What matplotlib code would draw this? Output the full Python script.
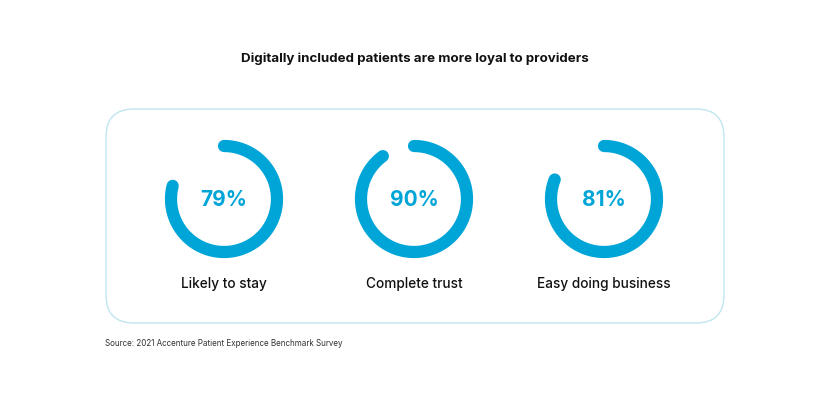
import numpy as np
import matplotlib.pyplot as plt
from matplotlib.patches import FancyBboxPatch

plt.rcParams['font.family'] = ['Inter', 'DejaVu Sans']

# data
labels = ['Likely to stay', 'Complete trust', 'Easy doing business']
values = [79, 90, 81]
title = 'Digitally included patients are more loyal to providers'
source = 'Source: 2021 Accenture Patient Experience Benchmark Survey'

blue = '#00a5d8'

fig = plt.figure(figsize=(8.30, 3.99), dpi=100)
ax = fig.add_axes([0, 0, 1, 1])
ax.set_xlim(0, 830)
ax.set_ylim(399, 0)
ax.set_aspect('equal')
ax.axis('off')

# rounded box
box = FancyBboxPatch((106, 109), 618, 214,
                     boxstyle='round,pad=0,rounding_size=28',
                     fc='none', ec='#bfe6ee', lw=1.0)
ax.add_patch(box)

ax.text(415, 59, title, ha='center', va='center', fontsize=9.6,
        fontweight='bold', color='#111111')

centers = [224, 414, 604]
cy = 199
r = 53
for cx, v, lab in zip(centers, values, labels):
    th = np.radians(np.linspace(90, 90 - 360 * v / 100, 300))
    ax.plot(cx + r * np.cos(th), cy - r * np.sin(th), color=blue,
            lw=8.8, solid_capstyle='round')
    ax.text(cx, cy + 1, f'{v}%', ha='center', va='center', fontsize=15,
            fontweight='bold', color=blue)
    ax.text(cx, 284, lab, ha='center', va='center', fontsize=9.8,
            fontweight='medium', color='#111111')

ax.text(105, 344, source, ha='left', va='center', fontsize=5.8,
        color='#333333')

fig.savefig('out.png', dpi=100)
